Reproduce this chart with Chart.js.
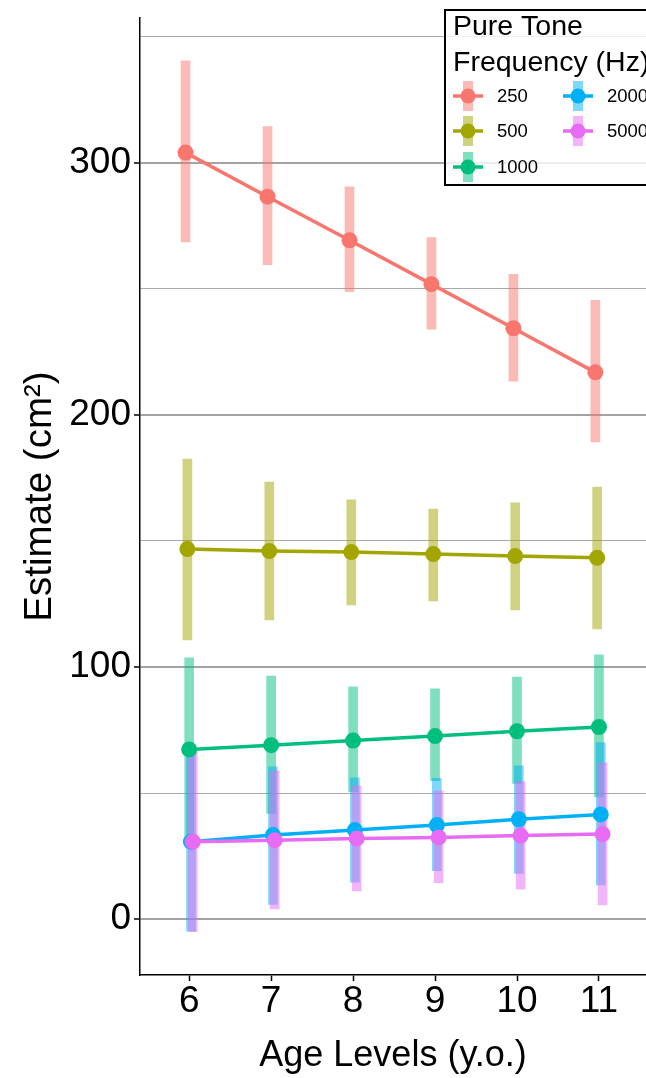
<!DOCTYPE html>
<html>
<head>
<meta charset="utf-8">
<script src="https://cdn.jsdelivr.net/npm/chart.js@4/dist/chart.umd.min.js"></script>
<style>
  html, body { margin: 0; padding: 0; background: #fff; overflow: hidden; }
  canvas { display: block; }
</style>
</head>
<body>
<canvas id="c" width="646" height="1078"></canvas>
<script>
// ---------- data ----------
const ages = [6, 7, 8, 9, 10, 11];
const freqLabels = ['250', '500', '1000', '2000', '5000'];

const est250 = [304.1, 286.6, 269.3, 251.9, 234.4, 216.9];
const lo250  = [268.7, 259.6, 248.9, 234.0, 213.4, 189.3];
const hi250  = [340.5, 314.4, 290.5, 270.4, 255.8, 245.5];

const est500 = [146.8, 146.0, 145.6, 144.8, 144.0, 143.3];
const lo500  = [110.7, 118.7, 124.6, 126.2, 122.6, 115.1];
const hi500  = [182.5, 173.4, 166.3, 162.7, 165.1, 171.4];

const est1000 = [67.3, 69.0, 70.8, 72.6, 74.5, 76.2];
const lo1000  = [31.5, 41.9, 50.5, 54.9, 53.8, 48.5];
const hi1000  = [103.6, 96.4, 92.1, 91.3, 96.0, 104.8];

const est2000 = [30.7, 33.3, 35.3, 37.3, 39.6, 41.5];
const lo2000  = [-4.8, 5.8, 14.6, 19.2, 18.1, 13.5];
const hi2000  = [66.0, 60.4, 56.0, 55.8, 60.8, 70.0];

const est5000 = [30.7, 31.3, 32.0, 32.4, 33.1, 33.7];
const lo5000  = [-5.0, 4.0, 11.2, 14.4, 11.9, 5.6];
const hi5000  = [66.3, 58.8, 52.9, 50.9, 54.5, 62.0];

const yTickValues = [0, 100, 200, 300];
const xTitle = 'Age Levels (y.o.)';
const yTitle = 'Estimate (cm\u00B2)';
const legendTitle = ['Pure Tone', 'Frequency (Hz)'];

// ---------- style ----------
const colors = ['#F8766D', '#A3A500', '#00BF7D', '#00B0F6', '#E76BF3'];
const FONT = '"Liberation Sans", Arial, Helvetica, sans-serif';
const DODGE = 0.022;

function alpha(hex, a) {
  const n = parseInt(hex.slice(1), 16);
  return `rgba(${(n >> 16) & 255},${(n >> 8) & 255},${n & 255},${a})`;
}

const estimates = [est250, est500, est1000, est2000, est5000];
const lows = [lo250, lo500, lo1000, lo2000, lo5000];
const highs = [hi250, hi500, hi1000, hi2000, hi5000];

const datasets = [];
freqLabels.forEach((lab, i) => {
  const off = (i - 2) * DODGE;
  datasets.push({
    type: 'bar',
    label: lab + ' CI',
    data: ages.map((a, k) => ({ x: a + off, y: [lows[i][k], highs[i][k]] })),
    backgroundColor: alpha(colors[i], 0.5),
    borderWidth: 0,
    barThickness: 9,
    grouped: false,
    order: 20 + (4 - i)
  });
  datasets.push({
    type: 'line',
    label: lab,
    data: ages.map((a, k) => ({ x: a + off, y: estimates[i][k] })),
    borderColor: colors[i],
    backgroundColor: colors[i],
    borderWidth: 3.5,
    pointRadius: 8,
    pointBorderWidth: 0,
    pointBackgroundColor: colors[i],
    tension: 0,
    order: 4 - i
  });
});

// ---------- custom legend (ggplot-style, column-major, 2 columns) ----------
const legendPlugin = {
  id: 'ptLegend',
  afterDraw(chart) {
    const ctx = chart.ctx;
    ctx.save();
    const bx = 445, by = 10, bw = 215, bh = 175;
    ctx.fillStyle = 'rgba(255,255,255,0.8)';
    ctx.fillRect(bx, by, bw, bh);
    ctx.lineWidth = 2;
    ctx.strokeStyle = '#000';
    ctx.strokeRect(bx, by, bw, bh);

    ctx.fillStyle = '#000';
    ctx.font = '28.5px ' + FONT;
    ctx.textAlign = 'left';
    ctx.textBaseline = 'alphabetic';
    ctx.fillText(legendTitle[0], 453, 35);
    ctx.fillText(legendTitle[1], 453, 71);

    const lines = chart.data.datasets.filter(d => d.type === 'line');
    const colX = [468, 578];
    const rowY = [96, 131, 167];
    lines.forEach((d, i) => {
      const cx = colX[Math.floor(i / 3)];
      const cy = rowY[i % 3];
      ctx.fillStyle = alpha(d.borderColor, 0.5);
      ctx.fillRect(cx - 5, cy - 15, 10, 30);
      ctx.strokeStyle = d.borderColor;
      ctx.lineWidth = 3.5;
      ctx.beginPath();
      ctx.moveTo(cx - 15, cy);
      ctx.lineTo(cx + 15, cy);
      ctx.stroke();
      ctx.fillStyle = d.borderColor;
      ctx.beginPath();
      ctx.arc(cx, cy, 7.5, 0, Math.PI * 2);
      ctx.fill();
      ctx.fillStyle = '#000';
      ctx.font = '18.5px ' + FONT;
      ctx.textBaseline = 'middle';
      ctx.fillText(d.label, cx + 29, cy + 1);
    });
    ctx.restore();
  }
};

new Chart(document.getElementById('c'), {
  type: 'line',
  data: { datasets },
  options: {
    responsive: false,
    animation: false,
    events: [],
    layout: { autoPadding: false, padding: { top: 18, right: 0, left: 0, bottom: 0 } },
    plugins: {
      legend: { display: false },
      tooltip: { enabled: false },
      title: { display: false }
    },
    scales: {
      x: {
        type: 'linear',
        min: 5.4,
        max: 11.574,
        offset: false,
        grid: {
          offset: false,
          drawOnChartArea: false,
          drawTicks: true,
          tickLength: 6,
          tickColor: '#000',
          tickWidth: 1.5
        },
        border: { display: true, color: '#000', width: 1.5 },
        ticks: {
          stepSize: 1,
          includeBounds: false,
          autoSkip: false,
          maxRotation: 0,
          padding: 2,
          color: '#000',
          font: { family: FONT, size: 37, lineHeight: 1 },
          callback: v => (ages.includes(v) ? String(v) : '')
        },
        title: {
          display: true,
          text: xTitle,
          color: '#000',
          font: { family: FONT, size: 36, lineHeight: 1.2 },
          padding: { top: 0, bottom: 0 }
        },
        afterFit: s => { s.height = 103; s.paddingLeft = 0; s.paddingRight = 0; }
      },
      y: {
        type: 'linear',
        min: -22.2,
        max: 357.5,
        beginAtZero: false,
        grid: {
          drawOnChartArea: true,
          drawTicks: true,
          tickLength: 6,
          color: c => (c.tick && c.tick.value % 100 === 0 ? '#a3a3a3' : '#a9a9a9'),
          lineWidth: c => (c.tick && c.tick.value % 100 === 0 ? 2 : 1),
          tickColor: c => (c.tick && c.tick.value % 100 === 0 ? '#000' : 'rgba(0,0,0,0)'),
          tickWidth: 1.5
        },
        border: { display: true, color: '#000', width: 1.5 },
        ticks: {
          stepSize: 50,
          includeBounds: false,
          autoSkip: false,
          padding: 3,
          color: '#000',
          font: { family: FONT, size: 37, lineHeight: 1 },
          callback: v => (yTickValues.includes(v) ? String(v) : '')
        },
        title: {
          display: true,
          text: yTitle,
          color: '#000',
          font: { family: FONT, size: 38.5, lineHeight: 1.2 },
          padding: { top: 17, bottom: 0 }
        },
        afterFit: s => { s.width = 140; s.paddingTop = 0; s.paddingBottom = 0; }
      }
    }
  },
  plugins: [legendPlugin]
});
</script>
</body>
</html>
